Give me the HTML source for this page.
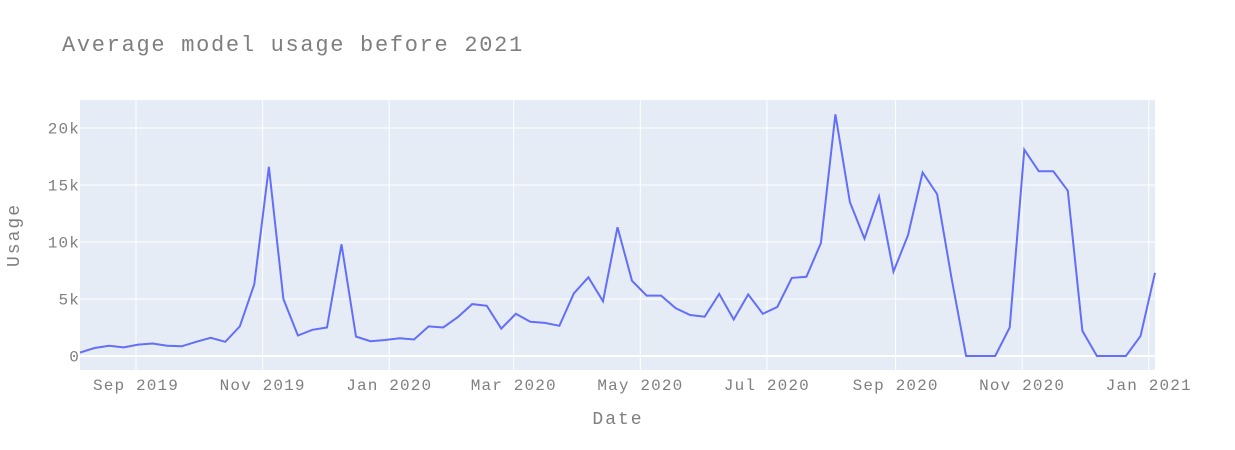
<!DOCTYPE html>
<html><head><meta charset="utf-8"><style>
body{margin:0;background:#fff;}
svg{display:block;font-family:"Liberation Mono",monospace;}
</style></head><body>
<svg id="chart" width="1235" height="450">
<rect width="1235" height="450" fill="#fff"/>
<text x="62" y="51" font-size="22" letter-spacing="1.7" fill="#7f7f7f">Average model usage before 2021</text>
<rect x="80" y="100" width="1075" height="270" fill="#e5ecf6"/>
<g id="grid"></g>
<g id="ticks"></g>
<path id="line" fill="none" stroke="#636efa" stroke-width="2"/>
<text x="618" y="424" font-size="18" letter-spacing="2" fill="#7f7f7f" text-anchor="middle">Date</text>
<text x="19" y="235" font-size="18" letter-spacing="2" fill="#7f7f7f" text-anchor="middle" transform="rotate(-90 19 235)">Usage</text>
</svg>
<script>
const startDate = "2019-08-05";
const values = [0.3,0.7,0.9,0.75,1.0,1.1,0.9,0.85,1.25,1.6,1.25,2.6,6.3,16.6,5.0,1.8,2.3,2.5,9.8,1.7,1.3,1.4,1.55,1.45,2.6,2.5,3.4,4.55,4.4,2.4,3.7,3.0,2.9,2.65,5.5,6.9,4.8,11.3,6.6,5.3,5.3,4.2,3.6,3.45,5.45,3.2,5.4,3.7,4.3,6.85,6.95,9.9,21.2,13.5,10.3,14.0,7.4,10.6,16.1,14.2,6.8,0,0,0,2.5,18.1,16.2,16.2,14.5,2.2,0,0,0,1.75,7.3];
const yTicks = [0,5,10,15,20];
const yTickLabels = ["0","5k","10k","15k","20k"];
const xTicks = ["2019-09-01","2019-11-01","2020-01-01","2020-03-01","2020-05-01","2020-07-01","2020-09-01","2020-11-01","2021-01-01"];
const xTickLabels = ["Sep 2019","Nov 2019","Jan 2020","Mar 2020","May 2020","Jul 2020","Sep 2020","Nov 2020","Jan 2021"];

const DAY = 86400000;
const t0 = Date.parse(startDate);
const dates = values.map((v,i)=>t0 + i*7*DAY);
const t1 = dates[dates.length-1];
const X0=80, X1=1155, Y0=356, PER=11.4;
const xs = t => X0 + (t - t0)/(t1 - t0)*(X1-X0);
const ys = v => Y0 - v*PER;
const NS="http://www.w3.org/2000/svg";
const grid=document.getElementById('grid'), ticks=document.getElementById('ticks');

yTicks.forEach((v,i)=>{
  const l=document.createElementNS(NS,'line');
  l.setAttribute('x1',X0);l.setAttribute('x2',X1);l.setAttribute('y1',ys(v));l.setAttribute('y2',ys(v));
  l.setAttribute('stroke','#fff');l.setAttribute('stroke-width',v===0?2:1);
  
  
  grid.appendChild(l);
  const t=document.createElementNS(NS,'text');
  t.setAttribute('x',80);t.setAttribute('y',ys(v)+5.5);t.setAttribute('text-anchor','end');
  t.setAttribute('font-size','16');t.setAttribute('letter-spacing','1.15');t.setAttribute('fill','#7f7f7f');
  t.textContent=yTickLabels[i];
  
  
  ticks.appendChild(t);
});
xTicks.forEach((d,i)=>{
  const x=xs(Date.parse(d));
  const l=document.createElementNS(NS,'line');
  l.setAttribute('x1',x);l.setAttribute('x2',x);l.setAttribute('y1',100);l.setAttribute('y2',370);
  l.setAttribute('stroke','#fff');l.setAttribute('stroke-width',1);
  
  
  grid.appendChild(l);
  const t=document.createElementNS(NS,'text');
  t.setAttribute('x',x);t.setAttribute('y',390);t.setAttribute('text-anchor','middle');
  t.setAttribute('font-size','16');t.setAttribute('letter-spacing','1.15');t.setAttribute('fill','#7f7f7f');
  t.textContent=xTickLabels[i];
  
  
  ticks.appendChild(t);
});
document.getElementById('line').setAttribute('d', values.map((v,i)=>(i?'L':'M')+xs(dates[i]).toFixed(1)+','+ys(v).toFixed(1)).join(' '));
</script>
</body></html>
